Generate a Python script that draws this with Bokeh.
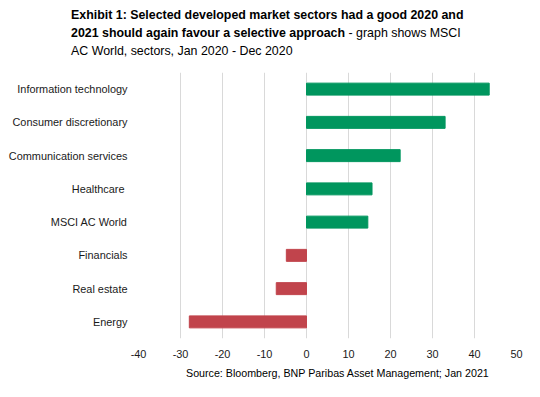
from bokeh.plotting import figure
from bokeh.models import ColumnDataSource, FactorRange, FixedTicker, Div
from bokeh.layouts import column
from bokeh.embed import file_html
from bokeh.resources import INLINE

sectors = ["Information technology", "Consumer discretionary", "Communication services",
           "Healthcare ", "MSCI AC World", "Financials", "Real estate", "Energy"]
returns = [43.5, 33.0, 22.3, 15.6, 14.6, -4.8, -7.2, -27.9]
x_ticks = [-40, -30, -20, -10, 0, 10, 20, 30, 40, 50]
x_tick_labels = ["-40", "-30", "-20", "-10", "0", "10", "20", "30", "40", "50"]

GREEN = "#00965E"
RED = "#C1444C"
FONT = "Liberation Sans"

colors = [GREEN if v >= 0 else RED for v in returns]
src = ColumnDataSource(dict(sector=sectors, ret=returns, color=colors))

p = figure(width=540, height=300, output_backend="svg", toolbar_location=None,
           y_range=FactorRange(factors=list(reversed(sectors)), range_padding=0),
           x_range=(-40, 50),
           min_border_left=138, min_border_right=24, min_border_top=8, min_border_bottom=26)

p.hbar(y="sector", left=0, right="ret", height=0.36, color="color", source=src)

p.outline_line_color = None
p.ygrid.grid_line_color = None
p.xgrid.grid_line_color = "#d9d9d9"
p.xgrid.grid_line_width = 1
p.xaxis.ticker = FixedTicker(ticks=x_ticks)
p.xaxis.major_label_overrides = {t: s for t, s in zip(x_ticks, x_tick_labels)}

for ax in (p.xaxis, p.yaxis):
    ax.axis_line_color = None
    ax.major_tick_line_color = None
    ax.minor_tick_line_color = None
    ax.major_tick_in = 0
    ax.major_tick_out = 0
    ax.major_label_text_font = FONT
    ax.major_label_text_font_size = "10.9px"
    ax.major_label_text_color = "#1a1a1a"

p.yaxis.major_label_standoff = 11
p.xaxis.major_label_standoff = 11

title_html = (
    '<div style="font-family:\'Liberation Sans\';font-size:12.4px;line-height:18px;'
    'color:#000;padding:6px 0 0 71px;white-space:nowrap;">'
    '<b>Exhibit 1: Selected developed market sectors had a good 2020 and</b><br>'
    '<b>2021 should again favour a selective approach</b> - graph shows MSCI<br>'
    'AC World, sectors, Jan 2020 - Dec 2020</div>'
)
title_div = Div(text=title_html, width=540, height=64, margin=(0, 0, 0, 0))

source_html = (
    '<div style="font-family:\'Liberation Sans\';font-size:10.7px;line-height:18px;'
    'color:#000;padding:0 0 0 186px;white-space:nowrap;">'
    'Source: Bloomberg, BNP Paribas Asset Management; Jan 2021</div>'
)
source_div = Div(text=source_html, width=540, height=33, margin=(0, 0, 0, 0))

layout = column(title_div, p, source_div, spacing=0)

open("out.html", "w").write(file_html(layout, INLINE))
